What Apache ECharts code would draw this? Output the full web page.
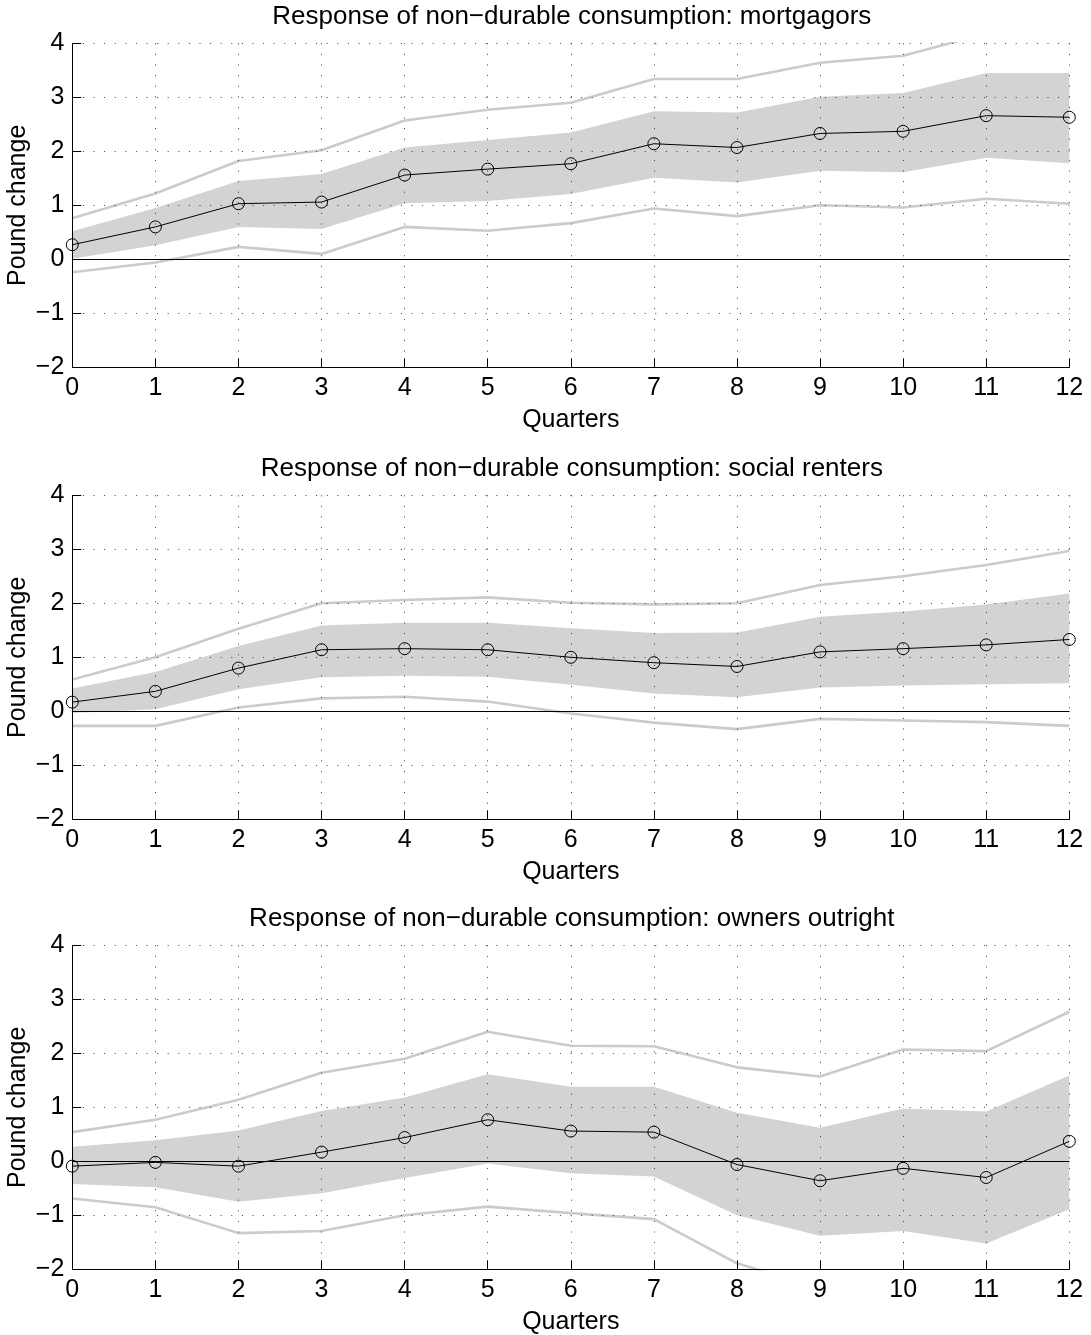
<!DOCTYPE html>
<html>
<head>
<meta charset="utf-8">
<script src="https://cdn.jsdelivr.net/npm/echarts@6/dist/echarts.min.js"></script>
<style>
html,body{margin:0;padding:0;background:#fff;}
#chart{width:1091px;height:1335px;}
</style>
</head>
<body>
<div id="chart"></div>
<script>
// ---------- data ----------
var quarters = [0,1,2,3,4,5,6,7,8,9,10,11,12];
var yTicks = [-2,-1,0,1,2,3,4];

var titles = [
  'Response of non\u2212durable consumption: mortgagors',
  'Response of non\u2212durable consumption: social renters',
  'Response of non\u2212durable consumption: owners outright'
];

// mortgagors
var mortPoint   = [0.27, 0.60, 1.03, 1.06, 1.56, 1.67, 1.77, 2.14, 2.07, 2.33, 2.37, 2.66, 2.63];
var mortBandHi  = [0.52, 0.95, 1.45, 1.58, 2.07, 2.21, 2.35, 2.74, 2.72, 3.01, 3.08, 3.45, 3.45];
var mortBandLo  = [0.01, 0.26, 0.60, 0.56, 1.04, 1.08, 1.21, 1.51, 1.42, 1.64, 1.61, 1.88, 1.78];
var mortOuterHi = [0.76, 1.22, 1.82, 2.02, 2.57, 2.77, 2.90, 3.34, 3.34, 3.64, 3.77, 4.18, 4.30];
var mortOuterLo = [-0.24, -0.06, 0.23, 0.10, 0.60, 0.53, 0.67, 0.94, 0.80, 1.00, 0.96, 1.12, 1.03];

// social renters
var socPoint   = [0.17, 0.37, 0.80, 1.14, 1.16, 1.14, 1.00, 0.90, 0.83, 1.10, 1.16, 1.23, 1.33];
var socBandHi  = [0.42, 0.73, 1.21, 1.59, 1.64, 1.64, 1.54, 1.45, 1.46, 1.75, 1.85, 1.98, 2.18];
var socBandLo  = [-0.03, 0.04, 0.41, 0.63, 0.66, 0.64, 0.49, 0.33, 0.26, 0.44, 0.48, 0.50, 0.52];
var socOuterHi = [0.59, 1.00, 1.53, 2.00, 2.06, 2.11, 2.01, 1.98, 2.00, 2.34, 2.50, 2.71, 2.97];
var socOuterLo = [-0.27, -0.27, 0.07, 0.24, 0.27, 0.18, -0.04, -0.21, -0.33, -0.14, -0.17, -0.20, -0.27];

// owners outright
var ownPoint   = [-0.09, -0.02, -0.09, 0.17, 0.44, 0.77, 0.56, 0.54, -0.06, -0.36, -0.13, -0.30, 0.37];
var ownBandHi  = [0.27, 0.39, 0.57, 0.93, 1.18, 1.61, 1.38, 1.38, 0.90, 0.62, 0.98, 0.92, 1.59];
var ownBandLo  = [-0.42, -0.48, -0.75, -0.59, -0.31, -0.04, -0.22, -0.28, -1.00, -1.38, -1.29, -1.52, -0.89];
var ownOuterHi = [0.54, 0.77, 1.14, 1.64, 1.90, 2.40, 2.14, 2.13, 1.74, 1.57, 2.07, 2.04, 2.77];
var ownOuterLo = [-0.69, -0.85, -1.33, -1.29, -1.00, -0.84, -0.96, -1.07, -1.89, -2.35, -2.40, -2.50, -2.30];

var panels = [
  {point: mortPoint, hi: mortBandHi, lo: mortBandLo, ohi: mortOuterHi, olo: mortOuterLo},
  {point: socPoint,  hi: socBandHi,  lo: socBandLo,  ohi: socOuterHi,  olo: socOuterLo},
  {point: ownPoint,  hi: ownBandHi,  lo: ownBandLo,  ohi: ownOuterHi,  olo: ownOuterLo}
];

// ---------- layout / style ----------
var FONT = '"Liberation Sans", Arial, Helvetica, sans-serif';
var FS = 25;
var FS_TITLE = 26;
var gridLeft = 72.3, gridWidth = 997, gridHeight = 324;
var gridTops = [43.3, 495.3, 945.3];
var bandColor = '#d3d3d3';
var outerColor = '#cbcbcb';
var dotStyle = {color: '#111', width: 1, type: [1, 9.6], opacity: 0.8};

function minusFmt(v){ return v < 0 ? '\u2212' + Math.abs(v) : String(v); }
function pairs(arr){ return quarters.map(function(q,i){ return [q, arr[i]]; }); }

var option = {
  animation: false,
  backgroundColor: '#fff',
  textStyle: {fontFamily: FONT},
  title: [], grid: [], xAxis: [], yAxis: [], series: []
};

panels.forEach(function(p, i){
  option.title.push({
    text: titles[i], left: gridLeft + gridWidth/2 - 4, top: gridTops[i] - 44,
    textAlign: 'center',
    textStyle: {fontFamily: FONT, fontSize: FS_TITLE, fontWeight: 'normal', color: '#000'}
  });
  option.grid.push({left: gridLeft, top: gridTops[i], width: gridWidth, height: gridHeight,
    containLabel: false, outerBoundsMode: 'none'});
  option.xAxis.push({
    gridIndex: i, type: 'value', min: 0, max: 12, interval: 1, z: 3,
    name: 'Quarters', nameLocation: 'middle', nameGap: 40, nameMoveOverlap: false,
    nameTextStyle: {fontFamily: FONT, fontSize: FS, color: '#000'},
    axisLine: {show: true, onZero: false, lineStyle: {color: '#000', width: 1}},
    axisTick: {show: true, inside: true, length: 9, lineStyle: {color: '#000', width: 1}},
    axisLabel: {fontFamily: FONT, fontSize: FS, color: '#000', margin: 8, formatter: minusFmt},
    splitLine: {show: true, lineStyle: dotStyle}
  });
  option.yAxis.push({
    gridIndex: i, type: 'value', min: yTicks[0], max: yTicks[yTicks.length-1], interval: 1, z: 3,
    name: 'Pound change', nameLocation: 'middle', nameGap: 42, nameRotate: 90, nameMoveOverlap: false,
    nameTextStyle: {fontFamily: FONT, fontSize: FS, color: '#000'},
    axisLine: {show: true, onZero: false, lineStyle: {color: '#000', width: 1}},
    axisTick: {show: true, inside: true, length: 9, lineStyle: {color: '#000', width: 1}},
    axisLabel: {fontFamily: FONT, fontSize: FS, color: '#000', margin: 8, formatter: minusFmt},
    splitLine: {show: true, lineStyle: dotStyle}
  });
  // shaded band as one polygon built through the axis scales
  option.series.push({
    type: 'custom', xAxisIndex: i, yAxisIndex: i, silent: true, z: 1,
    data: quarters.map(function(q,k){ return [q, p.hi[k], p.lo[k]]; }),
    encode: {x: 0, y: [1, 2]},
    renderItem: (function(pp){
      return function(params, api){
        if (params.dataIndex !== 0) return null;
        var pts = [];
        for (var k = 0; k < quarters.length; k++) pts.push(api.coord([quarters[k], pp.hi[k]]));
        for (var k2 = quarters.length - 1; k2 >= 0; k2--) pts.push(api.coord([quarters[k2], pp.lo[k2]]));
        return {type: 'polygon', shape: {points: pts}, style: {fill: bandColor, stroke: null}};
      };
    })(p)
  });
  [p.ohi, p.olo].forEach(function(arr){
    option.series.push({
      type: 'line', xAxisIndex: i, yAxisIndex: i, data: pairs(arr),
      symbol: 'none', silent: true, clip: true,
      lineStyle: {color: outerColor, width: 2.6}, z: 2
    });
  });
  option.series.push({
    type: 'line', xAxisIndex: i, yAxisIndex: i, data: pairs(p.point),
    symbol: 'circle', symbolSize: 12, silent: true,
    lineStyle: {color: '#000', width: 1},
    itemStyle: {color: 'rgba(0,0,0,0)', borderColor: '#000', borderWidth: 1},
    z: 5,
    markLine: {
      silent: true, symbol: 'none', label: {show: false},
      lineStyle: {color: '#000', width: 1, type: 'solid'},
      data: [{yAxis: 0}]
    }
  });
});

var chart = echarts.init(document.getElementById('chart'), null, {renderer: 'canvas'});
chart.setOption(option);
</script>
</body>
</html>
